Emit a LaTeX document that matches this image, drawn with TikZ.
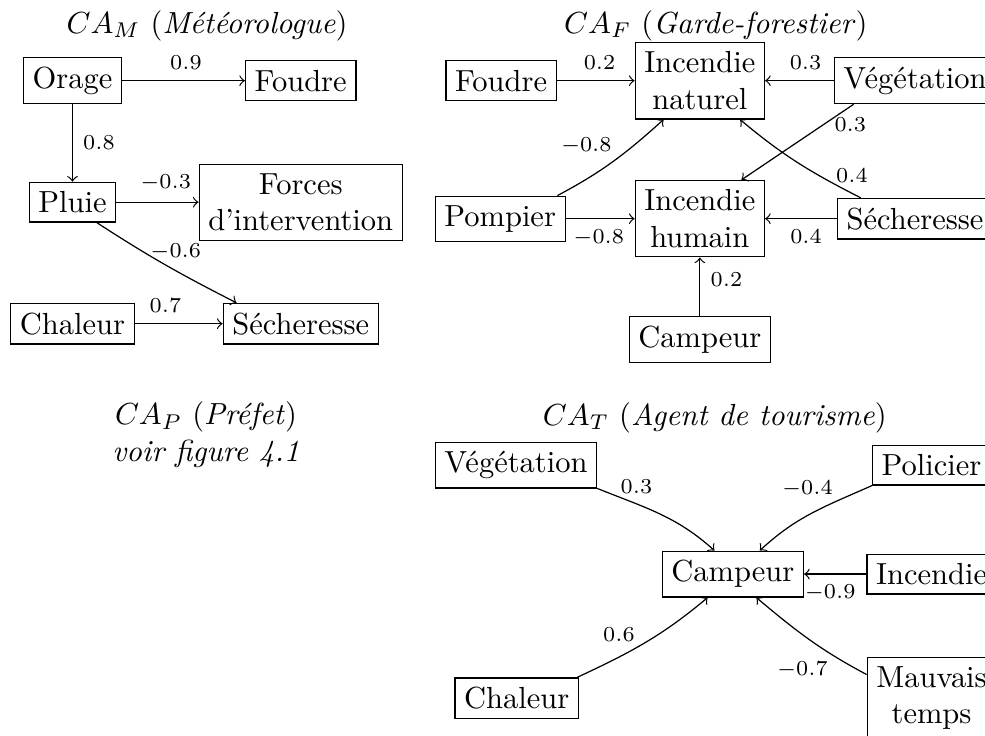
\documentclass[tikz,border=0pt]{standalone}
\usetikzlibrary{positioning}
\tikzset{
  box/.style  = {draw, line width=0.4pt, inner sep=3pt, align=center},
  flow/.style = {->, line width=0.4pt},
  wt/.style   = {font=\scriptsize},
  head/.style = {anchor=base, align=center},
}

\begin{document}
\begin{tikzpicture}[on grid]
\useasboundingbox (0,0) rectangle (11.35,8.47);

\node[head] (hm) at (2.385,8.087) {$CA_M$ (\textit{Météorologue})};
\node[box] (m1) at (0.835,7.54) {Orage};
\node[box, right=2.63cm of m1] (m2) {Foudre};
\node[box, below=1.4cm of m1] (m3) {Pluie};
\node[box, right=2.63cm of m3] (m4) {Forces\\d’intervention};
\node[box, below=1.4cm of m3] (m5) {Chaleur};
\node[box, right=2.63cm of m5] (m6) {Sécheresse};

\draw[flow] (m1) -- node[wt, above, pos=0.52] {$0.9$} (m2);
\draw[flow] (m1) -- node[wt, right] {$0.8$} (m3);
\draw[flow] (m3) -- node[wt, above, pos=0.6] {$-0.3$} (m4);
\draw[flow] (m3.-40) to[out=-33, in=153] node[wt, above, pos=0.58] {$-0.6$} (m6.162);
\draw[flow] (m5) -- node[wt, above, pos=0.35] {$0.7$} (m6);

\node[head] (hf) at (8.248,8.087) {$CA_F$ (\textit{Garde-forestier})};
\node[box] (f1) at (8.064,7.54) {Incendie\\naturel};
\node[box, left=2.29cm of f1] (f2) {Foudre};
\node[box, right=2.48cm of f1] (f3) {Végétation};
\node[box, below=1.59cm of f1] (f4) {Incendie\\humain};
\node[box, left=2.30cm of f4] (f5) {Pompier};
\node[box, right=2.48cm of f4] (f6) {Sécheresse};
\node[box, below=1.39cm of f4] (f7) {Campeur};

\draw[flow] (f2) -- node[wt, above, pos=0.55] {$0.2$} (f1);
\draw[flow] (f3) -- node[wt, above, pos=0.41] {$0.3$} (f1);
\draw[flow] (f3.201) -- node[wt, below, pos=0.03] {$0.3$} (f4.43);
\draw[flow] (f6.159) to[out=153, in=-40] node[wt, above, pos=0.06] {$0.4$} (f1.-44);
\draw[flow] (f5.22) to[out=28, in=222] node[wt, above left=-1pt and -3pt, pos=0.5] {$-0.8$} (f1.227);
\draw[flow] (f5) -- node[wt, below, pos=0.48] {$-0.8$} (f4);
\draw[flow] (f6) -- node[wt, below, pos=0.43] {$0.4$} (f4);
\draw[flow] (f7) -- node[wt, right, pos=0.62] {$0.2$} (f4);

\node[align=center] (hp) at (2.373,3.462) {$CA_P$ (\textit{Préfet})\\\textit{voir figure 4.1}};

\node[head] (ht) at (8.237,3.571) {$CA_T$ (\textit{Agent de tourisme})};
\node[box] (t1) at (8.444,1.855) {Campeur};
\node[box, above left=1.256cm and 2.50cm of t1] (t2) {Végétation};
\node[box, above right=1.256cm and 2.29cm of t1] (t3) {Policier};
\node[box, right=2.29cm of t1] (t4) {Incendie};
\node[box, below left=1.43cm and 2.49cm of t1] (t5) {Chaleur};
\node[box, below right=1.43cm and 2.29cm of t1] (t6) {Mauvais\\temps};

\draw[flow] (t2.-16) to[out=-22, in=138] node[wt, above, pos=0.3] {$0.3$} (t1.128);
\draw[flow] (t3.south west) to[out=204, in=43] node[wt, above left=-2pt and -3pt, pos=0.3] {$-0.4$} (t1.41);
\draw[flow] (t4) -- node[wt, below, pos=0.58] {$-0.9$} (t1);
\draw[flow] (t5.19) to[out=25, in=220] node[wt, above left=-1pt and -4pt, pos=0.4] {$0.6$} (t1.223);
\draw[flow] (t6.160) to[out=152, in=-40] node[wt, below left=-2pt and -1pt, pos=0.25] {$-0.7$} (t1.-45);

\end{tikzpicture}
\end{document}
